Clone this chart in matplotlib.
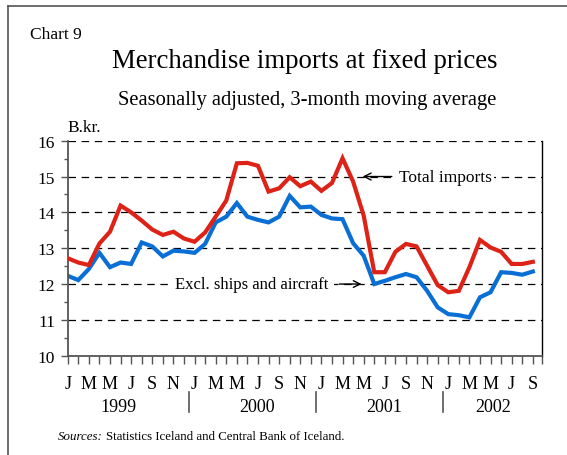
import matplotlib
matplotlib.use("Agg")
import matplotlib.pyplot as plt
from matplotlib.lines import Line2D
import numpy as np

plt.rcParams['font.family'] = ['Liberation Serif', 'DejaVu Serif']

month_letters = ["J", "F", "M", "A", "M", "J", "J", "A", "S", "O", "N", "D"]
years = ["1999", "2000", "2001", "2002"]

total_imports = [12.72, 12.60, 12.53, 13.13, 13.46, 14.19, 14.00, 13.77, 13.52, 13.37, 13.46, 13.27,
                 13.18, 13.44, 13.88, 14.33, 15.37, 15.38, 15.30, 14.58, 14.67, 14.98, 14.73, 14.86,
                 14.60, 14.82, 15.51, 14.86, 13.91, 12.33, 12.33, 12.90, 13.12, 13.05, 12.51, 11.97,
                 11.77, 11.81, 12.47, 13.23, 13.02, 12.90, 12.56, 12.56, 12.62]
excl_ships = [12.23, 12.11, 12.42, 12.87, 12.47, 12.60, 12.56, 13.16, 13.05, 12.77, 12.93, 12.91,
              12.87, 13.12, 13.72, 13.88, 14.26, 13.88, 13.79, 13.72, 13.88, 14.46, 14.14, 14.16,
              13.93, 13.83, 13.81, 13.14, 12.79, 12.00, 12.09, 12.19, 12.28, 12.19, 11.81, 11.35,
              11.16, 11.13, 11.07, 11.63, 11.77, 12.33, 12.31, 12.26, 12.35]

# layout (label positions in month index units)
year_label_pos = [4.8, 17.9, 29.9, 40.2]

n = len(total_imports)
x = np.arange(n)

W, H = 567, 456
fig = plt.figure(figsize=(W / 100, H / 100), dpi=100)
ax = fig.add_axes([67.7 / W, 1 - 356.7 / H, 474 / W, 215 / H])

# gridlines
for v in [11, 12, 13, 14, 15, 16]:
    ax.axhline(v, color="black", lw=0.9, ls=(0, (6, 4.5)), zorder=1)

ax.plot(x, total_imports, color="#dd2318", lw=3.0, solid_joinstyle="miter", zorder=3)
ax.plot(x, excl_ships, color="#0a6fd4", lw=3.0, solid_joinstyle="miter", zorder=2)

ax.set_xlim(0, 44.84)
ax.set_ylim(10, 16)

ax.spines["top"].set_visible(False)
ax.spines["right"].set_color("black")
ax.spines["right"].set_linewidth(1.0)
ax.spines["left"].set_color("#555555")
ax.spines["left"].set_linewidth(1.3)
ax.spines["bottom"].set_color("#555555")
ax.spines["bottom"].set_linewidth(1.3)

ax.set_yticks(np.arange(10, 17, 1))
ax.set_yticklabels([str(v) for v in range(10, 17)], fontsize=12.5)
ax.set_yticks(np.arange(10.5, 16, 1), minor=True)
ax.tick_params(axis="y", which="major", direction="out", length=5, width=1, color="#555555", pad=4)
ax.tick_params(axis="y", which="minor", direction="out", length=3, width=1, color="#555555")

xt = list(range(n)) + [44.84]
ax.set_xticks(xt)
labels = [month_letters[i % 12] if i % 2 == 0 else "" for i in range(n)] + [""]
ax.set_xticklabels(labels, fontsize=13)
ax.tick_params(axis="x", which="major", direction="out", length=6, width=1, color="#555555", pad=8)

# year labels and separators
trans = ax.get_xaxis_transform()
for xp, yr in zip(year_label_pos, years):
    ax.text(xp, -0.234, yr, transform=trans, ha="center", va="center", fontsize=13)
for k in range(1, len(years)):
    ax.add_line(Line2D([12 * k - 0.5] * 2, [-0.17, -0.262], transform=trans, color="#555555",
                       lw=1.2, clip_on=False))

# annotations
ax.annotate("Total imports", xy=(27.9, 15), xytext=(31.3, 15), fontsize=12.5, va="center", ha="left",
            bbox=dict(boxstyle="square,pad=0.15", fc="white", ec="none"),
            arrowprops=dict(arrowstyle="->", color="black", lw=1.0, shrinkA=3, shrinkB=0), zorder=4)
ax.annotate("Excl. ships and aircraft", xy=(27.8, 12), xytext=(24.7, 12), fontsize=12, va="center",
            ha="right",
            bbox=dict(boxstyle="square,pad=0.3", fc="white", ec="none"),
            arrowprops=dict(arrowstyle="->", color="black", lw=1.0, shrinkA=4, shrinkB=0), zorder=4)

# texts
fig.text(30 / W, 1 - 35 / H, "Chart 9", fontsize=12.5, ha="left", va="center")
fig.text(305 / W, 1 - 62 / H, "Merchandise imports at fixed prices", fontsize=19.3, ha="center", va="center")
fig.text(307 / W, 1 - 101 / H, "Seasonally adjusted, 3-month moving average", fontsize=14.8, ha="center",
         va="center")
fig.text(67 / W, 1 - 128 / H, "B.kr.", fontsize=12.5, ha="left", va="center")
t1 = fig.text(58 / W, 1 - 437 / H, "Sources:", fontsize=9.3, style="italic", ha="left", va="center")
fig.canvas.draw()
bb = t1.get_window_extent()
fig.text((bb.x1 + 3) / W, 1 - 437 / H, "Statistics Iceland and Central Bank of Iceland.", fontsize=9.3,
         ha="left", va="center")

# frame
fig.add_artist(Line2D([8 / W, 1], [1 - 7 / H] * 2, color="#555555", lw=1.2))
fig.add_artist(Line2D([8 / W] * 2, [0, 1 - 7 / H], color="#555555", lw=1.2))

fig.savefig("out.png", dpi=100)
